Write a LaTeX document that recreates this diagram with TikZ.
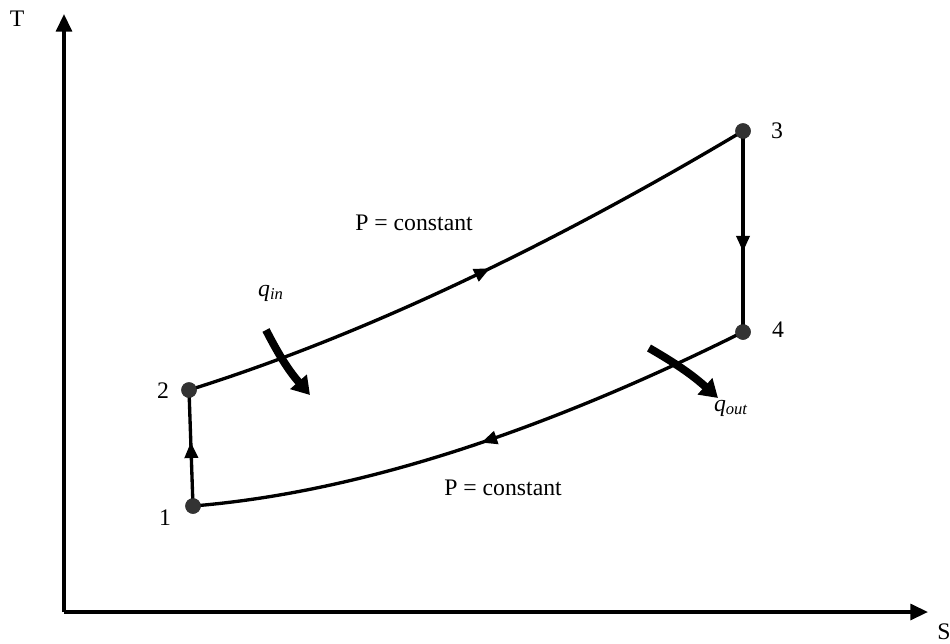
\documentclass[tikz,border=0pt]{standalone}
\usepackage{fontspec}
\setmainfont{Liberation Serif}
\usepackage{tikz}
\usetikzlibrary{arrows,arrows.meta,decorations.markings}

\begin{document}
\begin{tikzpicture}[x=0.02cm, y=-0.02cm,
    state/.style={circle, fill=black!80, inner sep=0pt, minimum size=0.31cm},
    lbl/.style={font=\fontsize{13.5}{15}\selectfont, inner sep=1pt},
    axis/.style={-{Triangle[length=10pt,width=9pt]}, line width=1.9pt},
    proc/.style={line width=1.9pt},
    midarr/.style={postaction={decorate}, decoration={markings,
                   mark=at position #1 with {\arrow{Triangle[length=9pt,width=7.5pt]}}}},
    heat/.style={-{Triangle[length=10pt,width=12pt]}, line width=4.5pt}
]
\useasboundingbox (0,0) rectangle (950,643);

% axes
\coordinate (origin) at (64,612);
\coordinate (ttop) at (64,14);
\coordinate (sright) at (928,612);
\draw[axis] (origin) -- (ttop);
\draw[axis] (origin) -- (sright);
\node[lbl] (tlabel) at (17,19) {T};
\node[lbl] (slabel) at (944,632) {S};

% states
\node[state] (p1) at (193,506) {};
\node[state] (p2) at (189,390) {};
\node[state] (p3) at (743,131) {};
\node[state] (p4) at (743,332) {};

% processes
\draw[proc, midarr=0.55] (p1.center) -- (p2.center);
\draw[proc, midarr=0.53] (p2.center) .. controls (355,338) and (540,252) .. (p3.center);
\draw[proc, midarr=0.60] (p3.center) -- (p4.center);
\draw[proc, midarr=0.49] (p4.center) .. controls (536,435) and (353,493) .. (p1.center);

\node[state] at (p1) {};
\node[state] at (p2) {};
\node[state] at (p3) {};
\node[state] at (p4) {};

\node[lbl] (n1) at (165,518) {1};
\node[lbl] (n2) at (163,391) {2};
\node[lbl] (n3) at (777,131) {3};
\node[lbl] (n4) at (778,330) {4};

\node[lbl] (ptop) at (414,223) {P = constant};
\node[lbl] (pbot) at (503,488) {P = constant};

% heat transfer
\coordinate (qinfrom) at (266,330);
\coordinate (qinto) at (310,395);
\draw[heat] (qinfrom) to[bend right=7] (qinto);
\node[lbl] (qin) at (271,293) {\textit{q\textsubscript{in}}};

\coordinate (qoutfrom) at (649,348);
\coordinate (qoutto) at (718,398);
\draw[heat] (qoutfrom) to[bend left=6] (qoutto);
\node[lbl] (qout) at (731,408) {\textit{q\textsubscript{out}}};
\end{tikzpicture}
\end{document}
